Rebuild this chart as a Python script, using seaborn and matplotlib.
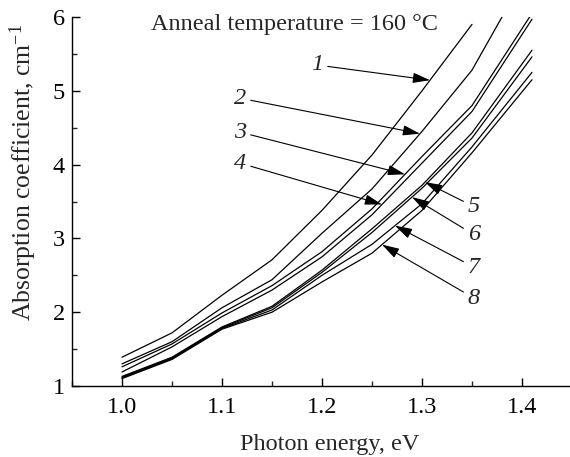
import numpy as np
import pandas as pd
import seaborn as sns
import matplotlib.pyplot as plt
from matplotlib.ticker import MultipleLocator

# photon energy (eV) at which the curves were sampled
energy = [1.00, 1.05, 1.10, 1.15, 1.20, 1.25, 1.30, 1.35, 1.41]

# absorption coefficient (cm^-1) for curves 1..8
curve_1 = [1.39, 1.72, 2.23, 2.71, 3.38, 4.13, 5.00, 5.90]
curve_2 = [1.30, 1.60, 2.06, 2.44, 3.07, 3.67, 4.45, 5.28, 6.72]
curve_3 = [1.26, 1.57, 1.99, 2.36, 2.82, 3.40, 4.11, 4.80, 6.05]
curve_4 = [1.19, 1.53, 1.94, 2.30, 2.75, 3.32, 4.02, 4.72, 5.97]
curve_5 = [1.13, 1.39, 1.80, 2.08, 2.57, 3.13, 3.72, 4.43, 5.55]
curve_6 = [1.12, 1.38, 1.79, 2.06, 2.54, 3.08, 3.68, 4.36, 5.46]
curve_7 = [1.11, 1.37, 1.78, 2.03, 2.50, 2.92, 3.47, 4.24, 5.25]
curve_8 = [1.10, 1.36, 1.77, 2.00, 2.41, 2.80, 3.38, 4.16, 5.15]

curve_names = ["1", "2", "3", "4", "5", "6", "7", "8"]
curves = [curve_1, curve_2, curve_3, curve_4, curve_5, curve_6, curve_7, curve_8]

# photon energy where each label arrow touches its curve
arrow_energy = [1.308, 1.298, 1.283, 1.260, 1.303, 1.290, 1.273, 1.260]

sns.set_theme(style="ticks")
plt.rcParams["font.family"] = ["Liberation Serif", "DejaVu Serif"]
plt.rcParams["mathtext.fontset"] = "custom"
plt.rcParams["mathtext.rm"] = "Liberation Serif"
plt.rcParams["mathtext.it"] = "Liberation Serif:italic"

FS = 17.5

rows = []
for name, vals in zip(curve_names, curves):
    for e, a in zip(energy, vals):
        rows.append({"energy": e, "absorption": a, "curve": name})
df = pd.DataFrame(rows)

fig = plt.figure(figsize=(5.7, 4.57), dpi=100)
ax = fig.add_axes([72 / 570, 71 / 457, 498 / 570, 369 / 457])

sns.lineplot(data=df, x="energy", y="absorption", hue="curve",
             palette=["black"] * 8, linewidth=0.9, legend=False, ax=ax)

ax.set_xlim(0.95, 1.448)
ax.set_ylim(1, 6)
ax.set_xticks([1.0, 1.1, 1.2, 1.3, 1.4])
ax.set_yticks([1, 2, 3, 4, 5, 6])
ax.xaxis.set_minor_locator(MultipleLocator(0.05))
ax.yaxis.set_minor_locator(MultipleLocator(0.5))
ax.tick_params(which="major", direction="in", length=6, width=1, labelsize=FS, colors="black")
ax.tick_params(which="minor", direction="in", length=3.5, width=1)
ax.tick_params(axis="x", pad=8)
ax.tick_params(axis="y", pad=5)
for s in ["top", "right"]:
    ax.spines[s].set_visible(False)
for s in ["left", "bottom"]:
    ax.spines[s].set_linewidth(1)
    ax.spines[s].set_color("black")

ax.set_xlabel("Photon energy, eV", fontsize=FS)
ax.set_ylabel("Absorption coefficient, cm$^{-1}$", fontsize=18.5)
ax.xaxis.set_label_coords(0.518, -0.13)
ax.yaxis.set_label_coords(-0.066, 0.578)

ax.text(1.172, 5.905, "Anneal temperature = 160 °C", fontsize=FS,
        ha="center", va="center")

# where each curve number is written
label_pos = [(1.195, 5.35), (1.118, 4.90), (1.118, 4.44), (1.118, 4.02),
             (1.352, 3.43), (1.352, 3.05), (1.352, 2.61), (1.352, 2.19)]

for name, vals, xe, pos in zip(curve_names, curves, arrow_energy, label_pos):
    ye = np.interp(xe, energy[:len(vals)], vals)
    ax.annotate(name, xy=(xe, ye), xytext=pos, fontsize=FS, style="italic",
                ha="center", va="center",
                arrowprops=dict(arrowstyle="-|>,head_length=0.6,head_width=0.18",
                                color="black", lw=0.8, shrinkA=1, shrinkB=0))

fig.savefig("out.png", dpi=100)
